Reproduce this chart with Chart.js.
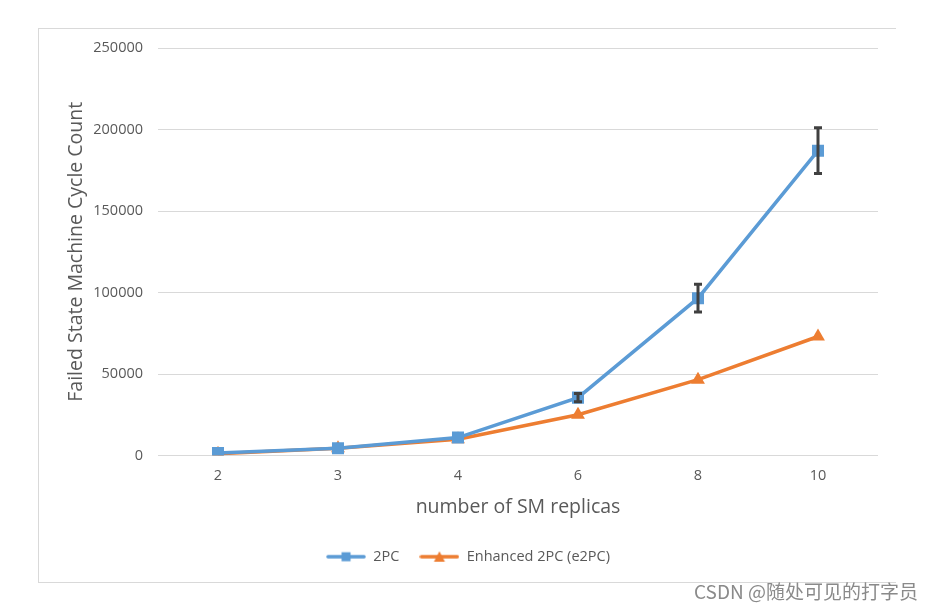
<!DOCTYPE html>
<html>
<head>
<meta charset="utf-8">
<script src="https://cdn.jsdelivr.net/npm/chart.js@4.4.1/dist/chart.umd.min.js"></script>
<style>
  html, body { margin: 0; padding: 0; background: #fff; }
  body { width: 934px; height: 609px; position: relative; overflow: hidden; }
  #box { position: absolute; left: 38px; top: 28px; width: 858px; height: 555px;
         border-top: 1px solid #d9d9d9; border-left: 1px solid #d9d9d9; border-bottom: 1px solid #d9d9d9; box-sizing: border-box; }
  #c { position: absolute; left: 38px; top: 28px; }
  #wm { position: absolute; right: 16px; top: 577px; font: 19px "Noto Sans CJK SC", "Liberation Sans", sans-serif;
        color: #8a8a8a; white-space: nowrap; line-height: 28px; }
</style>
</head>
<body>
<div id="box"></div>
<canvas id="c" width="858" height="555"></canvas>
<div id="wm">CSDN @随处可见的打字员</div>
<script>
const categories = ["2", "3", "4", "6", "8", "10"];
const values2PC = [1500, 4500, 11000, 35500, 96500, 187000];
const error2PC = [0, 0, 0, 2500, 8500, 14000];
const valuesE2PC = [1000, 4500, 10000, 25000, 46500, 73000];
const yTicks = [0, 50000, 100000, 150000, 200000, 250000];

const BLUE = "#5B9BD5";
const ORANGE = "#ED7D31";
const TEXT = "#595959";
const FONT = "'Open Sans', 'DejaVu Sans', sans-serif";

function legendIcon(color, shape) {
  const cv = document.createElement("canvas");
  cv.width = 40; cv.height = 12;
  const g = cv.getContext("2d");
  g.strokeStyle = color; g.lineWidth = 3.5; g.lineCap = "round";
  g.beginPath(); g.moveTo(2, 6); g.lineTo(38, 6); g.stroke();
  g.fillStyle = color;
  if (shape === "rect") {
    g.fillRect(15.5, 1.5, 9, 9);
  } else {
    g.beginPath(); g.moveTo(20, 0.5); g.lineTo(25.5, 11); g.lineTo(14.5, 11); g.closePath(); g.fill();
  }
  return cv;
}
const icons = [legendIcon(BLUE, "rect"), legendIcon(ORANGE, "triangle")];

const errorBars = {
  id: "errorBars",
  afterDatasetsDraw(chart) {
    const ctx = chart.ctx;
    const xs = chart.scales.x, ys = chart.scales.y;
    ctx.save();
    ctx.strokeStyle = "#404040";
    ctx.lineWidth = 3;
    values2PC.forEach((v, i) => {
      if (!error2PC[i]) return;
      const x = xs.getPixelForValue(i);
      const yTop = ys.getPixelForValue(v + error2PC[i]);
      const yBot = ys.getPixelForValue(v - error2PC[i]);
      ctx.beginPath();
      ctx.moveTo(x, yTop); ctx.lineTo(x, yBot);
      ctx.moveTo(x - 4, yTop); ctx.lineTo(x + 4, yTop);
      ctx.moveTo(x - 4, yBot); ctx.lineTo(x + 4, yBot);
      ctx.stroke();
    });
    ctx.restore();
  }
};

new Chart(document.getElementById("c"), {
  type: "line",
  data: {
    labels: categories,
    datasets: [
      { label: "2PC", data: values2PC, borderColor: BLUE, backgroundColor: BLUE,
        borderWidth: 3.5, pointStyle: "rect", pointRadius: 8.5, pointBorderWidth: 0, tension: 0 },
      { label: "Enhanced 2PC (e2PC)", data: valuesE2PC, borderColor: ORANGE, backgroundColor: ORANGE,
        borderWidth: 3.5, pointStyle: "triangle", pointRadius: 8, pointBorderWidth: 0, tension: 0 }
    ]
  },
  options: {
    responsive: false,
    animation: false,
    layout: { padding: { left: 20, top: 20, right: 18, bottom: 9 } },
    plugins: {
      tooltip: { enabled: false },
      legend: {
        position: "bottom",
        labels: {
          usePointStyle: true,
          pointStyleWidth: 40,
          padding: 20,
          color: TEXT,
          font: { family: FONT, size: 14.5 },
          generateLabels(chart) {
            const items = Chart.defaults.plugins.legend.labels.generateLabels(chart);
            items.forEach((it, i) => { it.pointStyle = icons[i]; });
            return items;
          }
        }
      }
    },
    scales: {
      x: {
        type: "category",
        offset: true,
        afterFit(scale) { scale.height = 74; scale.paddingLeft = 0; scale.paddingRight = 0; },
        grid: { display: false, drawTicks: false },
        border: { display: false },
        ticks: { color: TEXT, font: { family: FONT, size: 14.5 }, padding: 12 },
        title: { display: true, text: "number of SM replicas", color: TEXT,
                 font: { family: FONT, size: 19.5 }, padding: { top: 0, bottom: 10 } }
      },
      y: {
        min: 0, max: 250000,
        afterFit(scale) { scale.width = 100; scale.paddingTop = 0; scale.paddingBottom = 0; },
        afterBuildTicks(scale) { scale.ticks = yTicks.map(v => ({ value: v })); },
        grid: { color: "#d9d9d9", lineWidth: 1, drawTicks: false },
        border: { display: false },
        ticks: { color: TEXT, font: { family: FONT, size: 14.5 }, padding: 15,
                 callback: (v) => String(v) },
        title: { display: true, text: "Failed State Machine Cycle Count", color: TEXT,
                 font: { family: FONT, size: 19.5 }, padding: { top: 7, bottom: 0 } }
      }
    }
  },
  plugins: [errorBars]
});
</script>
</body>
</html>
